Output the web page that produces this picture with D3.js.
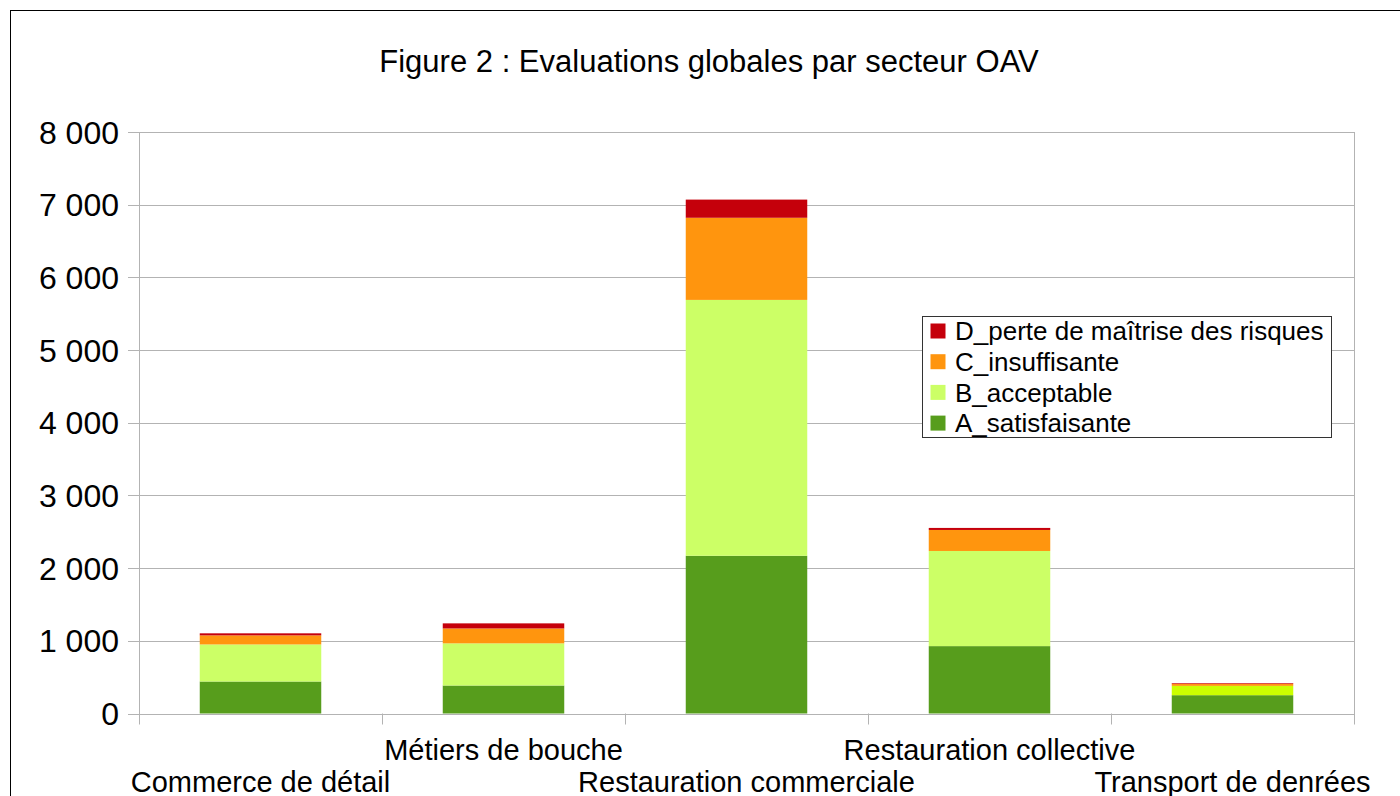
<!DOCTYPE html>
<html>
<head>
<meta charset="utf-8">
<script src="https://cdn.jsdelivr.net/npm/d3@7"></script>
<style>
  body { margin: 0; background: #fff; }
  svg { display: block; font-family: "Liberation Sans", Arial, sans-serif; }
</style>
</head>
<body>
<div id="chart"></div>
<script>
// data
var sectors = ["Commerce de détail", "Métiers de bouche", "Restauration commerciale", "Restauration collective", "Transport de denrées"];
var A_satisfaisante = [440, 385, 2170, 927, 252];
var B_acceptable    = [510, 580, 3520, 1309, 128];
var C_insuffisante  = [125, 205, 1130, 289, 29];
var D_perte         = [28, 70, 250, 28, 9];
var seriesNames = ["A_satisfaisante", "B_acceptable", "C_insuffisante", "D_perte de maîtrise des risques"];
var yTicks = [0, 1000, 2000, 3000, 4000, 5000, 6000, 7000, 8000];
var title = "Figure 2 : Evaluations globales par secteur OAV";

var colors = ["#579d1c", "#ccff66", "#ff950e", "#c5000b"];

var width = 1400, height = 796;
var margin = {left: 139, right: 46, top: 132, bottom: 82.5};

var rows = sectors.map(function(s, i) {
  return {sector: s, A: A_satisfaisante[i], B: B_acceptable[i], C: C_insuffisante[i], D: D_perte[i]};
});
var keys = ["A", "B", "C", "D"];
var stacked = d3.stack().keys(keys)(rows);

var svg = d3.select("#chart").append("svg")
  .attr("width", width)
  .attr("height", height);

// outer frame
svg.append("rect")
  .attr("x", 10.5).attr("y", 10.5)
  .attr("width", width).attr("height", height)
  .attr("fill", "none").attr("stroke", "#000");

var x = d3.scaleBand().domain(sectors)
  .range([margin.left, width - margin.right])
  .paddingInner(0.5).paddingOuter(0.25);
var y = d3.scaleLinear().domain([0, 8000])
  .range([height - margin.bottom, margin.top]);

// grid
svg.append("g").selectAll("line")
  .data(yTicks)
  .enter().append("line")
  .attr("x1", margin.left - 11).attr("x2", width - margin.right)
  .attr("y1", function(d) { return Math.round(y(d)) + 0.5; })
  .attr("y2", function(d) { return Math.round(y(d)) + 0.5; })
  .attr("stroke", "#b3b3b3");

// plot frame sides + x ticks
var boundaries = d3.range(sectors.length + 1).map(function(i) {
  return margin.left + x.step() * i;
});
svg.append("g").selectAll("line")
  .data(boundaries)
  .enter().append("line")
  .attr("x1", function(d) { return Math.round(d) + 0.5; })
  .attr("x2", function(d) { return Math.round(d) + 0.5; })
  .attr("y1", function(d, i) { return (i == 0 || i == sectors.length) ? margin.top : y(0); })
  .attr("y2", y(0) + 11)
  .attr("stroke", "#b3b3b3");

// bars
svg.append("g").selectAll("g")
  .data(stacked)
  .enter().append("g")
  .attr("fill", function(d, i) { return colors[i]; })
  .selectAll("rect")
  .data(function(d) { return d; })
  .enter().append("rect")
  .attr("x", function(d) { return x(d.data.sector); })
  .attr("width", x.bandwidth())
  .attr("y", function(d) { return y(d[1]); })
  .attr("height", function(d) { return y(d[0]) - y(d[1]); })
  // the transport bar uses a brighter green-yellow for B in the original
  .filter(function(d) { return d.data.sector == "Transport de denrées" && d[0] == d.data.A; })
  .attr("fill", "#ccff00");

// y labels
var fmt = function(v) { return d3.format(",")(v).replace(/,/g, " "); };
svg.append("g").selectAll("text")
  .data(yTicks)
  .enter().append("text")
  .attr("x", 119)
  .attr("y", function(d) { return y(d); })
  .attr("dy", "0.36em")
  .attr("text-anchor", "end")
  .attr("font-size", 32)
  .text(fmt);

// x labels, staggered on two rows
svg.append("g").selectAll("text")
  .data(sectors)
  .enter().append("text")
  .attr("x", function(d) { return x(d) + x.bandwidth() / 2; })
  .attr("y", function(d, i) { return i % 2 ? 760 : 792; })
  .attr("text-anchor", "middle")
  .attr("font-size", 29)
  .text(function(d) { return d; });

// title
svg.append("text")
  .attr("x", 709).attr("y", 72)
  .attr("text-anchor", "middle")
  .attr("font-size", 31)
  .text(title);

// legend
var legend = svg.append("g").attr("transform", "translate(922,316)");
legend.append("rect")
  .attr("x", 0.5).attr("y", 0.5)
  .attr("width", 409).attr("height", 121)
  .attr("fill", "#fff").attr("stroke", "#333");
var items = legend.selectAll("g.item")
  .data(seriesNames.slice().reverse())
  .enter().append("g")
  .attr("class", "item")
  .attr("transform", function(d, i) { return "translate(0," + (15 + i * 30.7) + ")"; });
items.append("rect")
  .attr("x", 8.5).attr("y", -7.5)
  .attr("width", 15).attr("height", 15)
  .attr("fill", function(d, i) { return colors[3 - i]; });
items.append("text")
  .attr("x", 33).attr("dy", "0.36em")
  .attr("font-size", 26)
  .text(function(d) { return d; });
</script>
</body>
</html>
